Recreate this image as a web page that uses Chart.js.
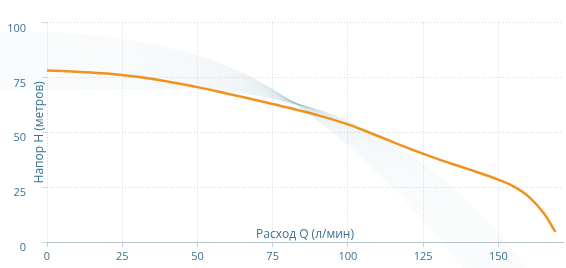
<!DOCTYPE html>
<html>
<head>
<meta charset="utf-8">
<script src="https://cdn.jsdelivr.net/npm/chart.js@4/dist/chart.umd.min.js"></script>
<style>
  html, body { margin: 0; padding: 0; background: #ffffff; }
  #wrap { width: 566px; height: 268px; position: relative; }
</style>
</head>
<body>
<div id="wrap"><canvas id="c"></canvas></div>
<script>
// Flow Q (л/мин) and head H (метров)
const flowQ = [0, 10, 20, 30, 40, 50, 60, 70, 80, 90, 100, 110, 120, 130, 140, 145, 150, 155, 160, 165, 169];
const headH = [78.2, 77.6, 76.8, 75.3, 73.2, 70.6, 67.6, 64.5, 61.3, 57.8, 53.6, 48.3, 42.8, 37.8, 33.2, 30.9, 28.4, 25.4, 20.8, 13.3, 4.6];
const xTitle = 'Расход Q (л/мин)';
const yTitle = 'Напор H (метров)';
const xMin = 0, xMax = 171.5, xStep = 25;
const yMin = 0, yMax = 100, yStep = 25;

const textColor = '#3b7191';
const fontFamily = '"Open Sans", "DejaVu Sans", sans-serif';

const points = flowQ.map((q, i) => ({ x: q, y: headH[i] }));

// decorative ribbon behind the chart
const ribbonPlugin = {
  id: 'ribbon',
  beforeDraw(chart) {
    const ctx = chart.ctx;
    ctx.save();
    ctx.lineWidth = 0.5;
    ctx.strokeStyle = 'rgba(140,172,205,0.10)';
    const N = 60;
    for (let i = 0; i < N; i++) {
      const t = i / (N - 1);
      const lerp = (a, b) => a + (b - a) * t;
      const p0 = [-10, lerp(32, 90)];
      const c1 = [120, lerp(30, 92)];
      const c2 = [215, lerp(50, 80)];
      const q = [lerp(283, 293), lerp(96, 104)];
      const c3 = [lerp(328, 350), lerp(125, 112)];
      const c4 = [lerp(405, 460), lerp(190, 170)];
      const e = [lerp(468, 530), 275];
      ctx.beginPath();
      ctx.moveTo(p0[0], p0[1]);
      ctx.bezierCurveTo(c1[0], c1[1], c2[0], c2[1], q[0], q[1]);
      ctx.bezierCurveTo(c3[0], c3[1], c4[0], c4[1], e[0], e[1]);
      ctx.stroke();
    }
    ctx.restore();
  }
};

const titlesPlugin = {
  id: 'axisTitles',
  afterDraw(chart) {
    const ctx = chart.ctx;
    const a = chart.chartArea;
    ctx.save();
    ctx.fillStyle = textColor;
    ctx.font = '12px ' + fontFamily;
    ctx.textAlign = 'center';
    ctx.textBaseline = 'middle';
    ctx.fillText(xTitle, (a.left + a.right) / 2, a.bottom - 7);
    ctx.translate(a.left - 7, (a.top + a.bottom) / 2);
    ctx.rotate(-Math.PI / 2);
    ctx.fillText(yTitle, 0, 0);
    ctx.restore();
  }
};

new Chart(document.getElementById('c'), {
  type: 'line',
  data: {
    datasets: [{
      data: points,
      borderColor: '#f0921e',
      borderWidth: 2.5,
      pointRadius: 0,
      fill: false,
      tension: 0.4
    }]
  },
  options: {
    responsive: true,
    maintainAspectRatio: false,
    animation: false,
    layout: { padding: { top: 10, right: 3, left: 0, bottom: 0 } },
    plugins: { legend: { display: false }, tooltip: { enabled: false } },
    scales: {
      x: {
        type: 'linear',
        min: xMin, max: xMax,
        border: { display: true, color: '#b7c4cc', width: 1, dash: [1, 2] },
        grid: { color: '#d3d8db', tickLength: 5, tickColor: '#c5cfd5', tickBorderDash: [] },
        ticks: {
          stepSize: xStep, includeBounds: false, padding: 3,
          color: textColor, font: { family: fontFamily, size: 11 }
        },
        afterFit(s) { s.height = 26; }
      },
      y: {
        min: yMin, max: yMax,
        border: { display: false, dash: [1, 2] },
        grid: { color: '#d3d8db', tickLength: 5 },
        ticks: {
          stepSize: yStep, padding: 16, labelOffset: 6,
          color: textColor, font: { family: fontFamily, size: 11 }
        },
        afterFit(s) { s.width = 47; }
      }
    }
  },
  plugins: [ribbonPlugin, titlesPlugin]
});
</script>
</body>
</html>
